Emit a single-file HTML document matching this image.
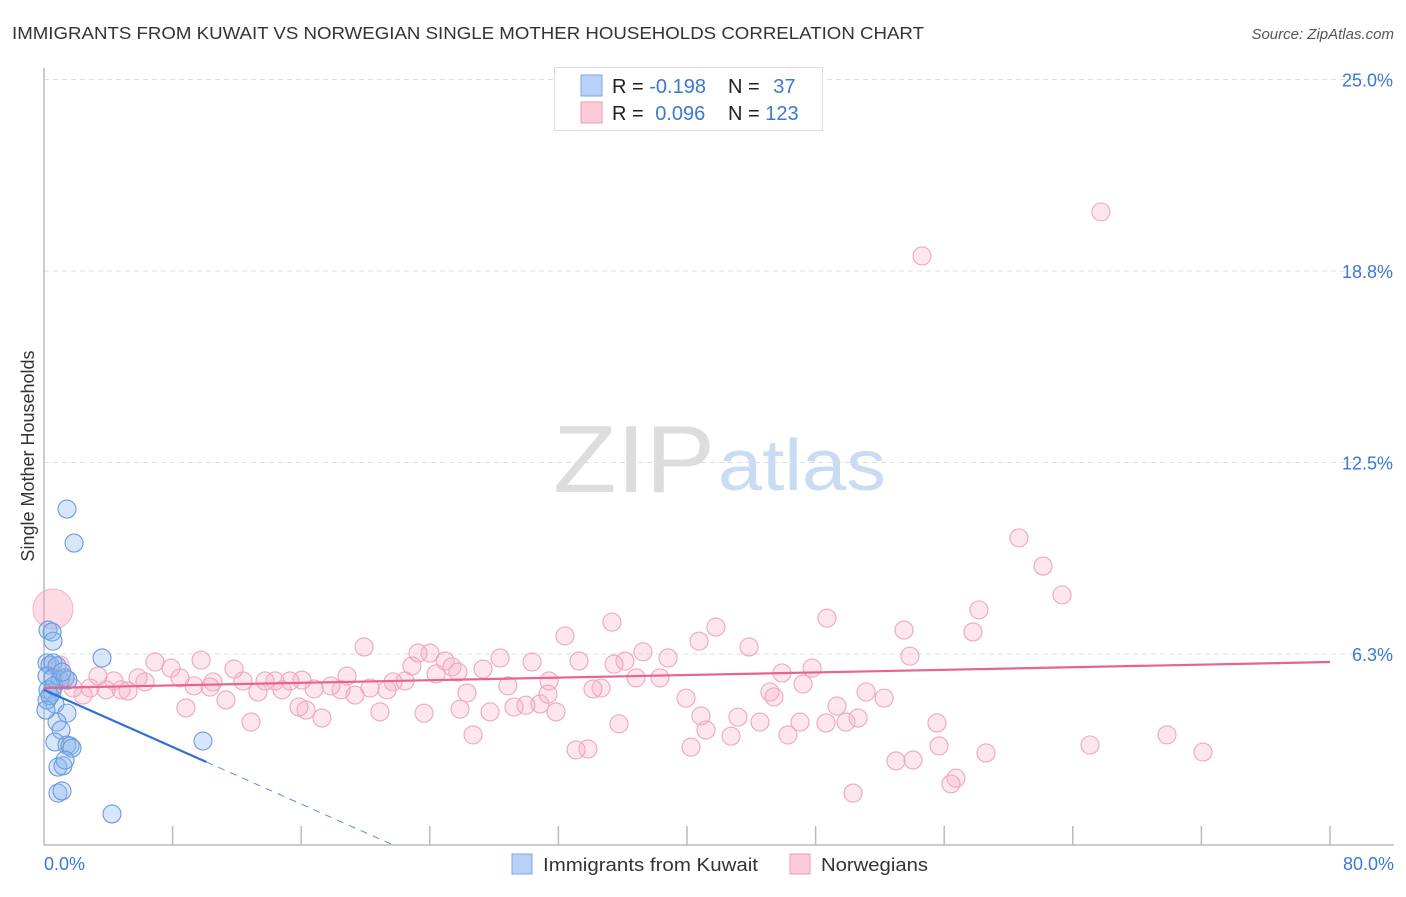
<!DOCTYPE html>
<html><head><meta charset="utf-8"><style>
body{margin:0;background:#fff;font-family:"Liberation Sans",sans-serif}
svg text{font-family:"Liberation Sans",sans-serif}
</style></head><body>
<svg id="chart" width="1406" height="892" viewBox="0 0 1406 892" xmlns="http://www.w3.org/2000/svg">
<text x="12" y="39" font-size="17.5" fill="#333" textLength="912" lengthAdjust="spacingAndGlyphs">IMMIGRANTS FROM KUWAIT VS NORWEGIAN SINGLE MOTHER HOUSEHOLDS CORRELATION CHART</text>
<text x="1394" y="39" font-size="15" fill="#555" font-style="italic" text-anchor="end">Source: ZipAtlas.com</text>
<g>
<text x="553" y="492" font-size="96" fill="#ddd" font-family="Liberation Serif" textLength="162" lengthAdjust="spacingAndGlyphs">ZIP</text>
<text x="718" y="490" font-size="72" fill="#c9dcf3" textLength="168" lengthAdjust="spacingAndGlyphs">atlas</text>
</g>
<g id="grid"></g>
<g id="axes"></g>
<text transform="translate(34,456) rotate(-90)" font-size="18" fill="#333" text-anchor="middle">Single Mother Households</text>
<g id="pts"></g>
<g id="lines"></g>
<g>
<rect x="554.5" y="67.5" width="268" height="63" fill="#fff" stroke="#ddd"/>
<rect x="581" y="75" width="21" height="21" fill="#b8d2f5" stroke="#7aa6e3"/>
<rect x="581" y="102" width="21" height="21" fill="#fbcbd8" stroke="#ec9ab3"/>
<text x="612" y="93" font-size="20" fill="#222">R = <tspan fill="#3a78d4">-0.198</tspan></text>
<text x="728" y="93" font-size="20" fill="#222">N = <tspan fill="#3a78d4" dx="8">37</tspan></text>
<text x="612" y="120" font-size="20" fill="#222">R = <tspan fill="#3a78d4" dx="6">0.096</tspan></text>
<text x="728" y="120" font-size="20" fill="#222">N = <tspan fill="#3a78d4">123</tspan></text>
</g>
<g>
<rect x="512" y="854" width="20" height="20" fill="#b8d2f5" stroke="#7aa6e3"/>
<text x="543" y="871" font-size="18" fill="#333" textLength="215" lengthAdjust="spacingAndGlyphs">Immigrants from Kuwait</text>
<rect x="790" y="854" width="20" height="20" fill="#fbcbd8" stroke="#ec9ab3"/>
<text x="821" y="871" font-size="18" fill="#333" textLength="107" lengthAdjust="spacingAndGlyphs">Norwegians</text>
</g>
</svg>
<script>
const yTicks=[6.3,12.5,18.8,25.0];
const yTickVals=[6.25,12.5,18.75,25];
const xTickLabels=["0.0%","80.0%"];
const kuwaitX=[1.43,1.87,3.61,9.89,4.23,0.25,0.5,0.56,0.19,0.37,0.56,0.81,0.19,0.56,1.0,1.31,0.25,0.5,0.68,1.43,0.81,1.06,0.68,1.43,1.62,1.74,0.87,1.18,1.31,0.87,1.12,0.19,0.37,0.12,0.62,1.49,1.12];
const kuwaitY=[10.98,9.87,6.12,3.41,1.03,7.03,6.97,6.67,5.96,5.89,5.96,5.86,5.53,5.47,5.4,5.47,5.08,5.01,4.62,4.32,4.03,3.77,3.38,3.28,3.25,3.18,2.56,2.6,2.79,1.71,1.78,4.75,4.89,4.42,5.21,5.4,5.66];
const norX=[65.75,54.62,60.65,62.15,63.33,58.16,57.79,53.5,48.71,41.8,35.33,32.41,19.91,53.87,43.86,40.75,37.26,38.82,36.14,33.28,30.36,28.37,27.31,24.01,23.27,22.89,24.95,25.38,25.75,18.85,47.78,45.91,47.22,45.16,45.41,38.32,36.83,34.65,34.15,31.42,28.86,26.31,24.39,22.46,21.71,21.34,20.28,19.35,18.48,17.85,16.8,16.05,15.3,14.37,14.81,13.75,13.31,12.38,11.82,11.32,10.51,10.33,9.33,9.77,8.46,7.9,6.9,6.28,5.85,5.23,4.79,4.35,3.86,3.36,2.86,2.43,1.8,1.31,1.0,51.14,52.26,49.33,50.64,48.65,49.89,47.03,46.28,44.54,43.17,42.74,41.18,40.25,35.77,33.84,31.85,30.86,29.98,29.24,27.75,26.69,20.9,17.29,16.3,15.86,12.88,8.83,55.55,55.68,58.6,54.06,53.0,56.73,56.42,50.33,65.07,69.86,72.1,33.1,39.94,40.87,35.46,31.35,23.64,25.88];
const norY=[20.68,19.24,10.04,9.12,8.18,7.69,6.97,7.03,7.42,7.13,7.29,6.84,6.48,6.18,6.48,6.67,6.32,6.12,6.02,6.02,5.99,6.12,5.76,6.28,6.28,5.86,6.02,5.83,5.66,5.53,5.79,5.63,5.27,5.01,4.85,5.47,5.47,5.14,5.11,5.37,5.21,4.98,5.6,5.37,5.34,5.08,5.14,4.91,5.08,5.21,5.11,5.4,5.37,5.37,5.08,5.37,5.01,5.37,5.76,4.75,5.34,5.17,5.21,6.05,5.47,5.79,5.99,5.34,5.47,5.04,5.08,5.37,5.08,5.53,5.14,4.91,5.14,5.47,5.89,5.01,4.81,4.55,4.16,4.0,4.03,4.03,3.61,4.03,4.19,3.57,3.77,3.21,3.97,3.15,4.36,4.62,4.58,4.52,4.36,3.61,4.36,4.16,4.42,4.52,4.03,4.49,4.0,3.25,3.02,2.79,2.76,2.2,2.01,1.71,3.28,3.61,3.05,3.12,4.81,4.23,5.92,4.94,4.32,4.45];
const bigX=[0.56], bigY=[7.72];
const kuwaitTrend=[5.08,-0.233];
const norTrend=[5.14,0.0106];

const X0=44,X1=1330,Y0=845.5,PX_PER_Y=30.64;
const sx=v=>X0+(v/80)*(X1-X0);
const sy=v=>Y0-v*PX_PER_Y;
const NS="http://www.w3.org/2000/svg";
function mk(tag,attrs,parent){const e=document.createElementNS(NS,tag);for(const k in attrs)e.setAttribute(k,attrs[k]);parent.appendChild(e);return e;}
const grid=document.getElementById('grid'),axes=document.getElementById('axes'),pts=document.getElementById('pts'),lines=document.getElementById('lines');
yTickVals.forEach((v,i)=>{
  const l=mk('line',{x1:44,x2:1394,y1:sy(v),y2:sy(v),stroke:'#ddd','stroke-dasharray':'5,4'},grid);
  
  
  const t=mk('text',{x:1393,y:sy(v)+7,'font-size':18,fill:'#3a78d4','text-anchor':'end'},grid);
  t.textContent=yTicks[i].toFixed(1)+'%';
  
  
});
let a=mk('line',{x1:44,x2:44,y1:68,y2:845,stroke:'#bbb','stroke-width':1.5},axes);


a=mk('line',{x1:44,x2:1394,y1:845,y2:845,stroke:'#bbb','stroke-width':1.5},axes);


for(let i=1;i<=10;i++){
  const t=mk('line',{x1:sx(i*8),x2:sx(i*8),y1:826,y2:845,stroke:'#bbb','stroke-width':1.5},axes);
  
  
}
let xl=mk('text',{x:44,y:870,'font-size':18,fill:'#3a78d4'},axes);xl.textContent=xTickLabels[0];


xl=mk('text',{x:1394,y:870,'font-size':18,fill:'#3a78d4','text-anchor':'end'},axes);xl.textContent=xTickLabels[1];


norX.forEach((x,i)=>{
  const c=mk('circle',{cx:sx(x),cy:sy(norY[i]),r:9,fill:'rgba(248,175,197,0.3)',stroke:'#efa5bb','stroke-width':1.1},pts);
  
  
});
bigX.forEach((x,i)=>{
  const c=mk('circle',{cx:sx(x),cy:sy(bigY[i]),r:20,fill:'rgba(248,175,197,0.45)',stroke:'#f2b3c6','stroke-width':1},pts);
  
  
});
kuwaitX.forEach((x,i)=>{
  const c=mk('circle',{cx:sx(x),cy:sy(kuwaitY[i]),r:9,fill:'rgba(140,182,236,0.35)',stroke:'#6b9ade','stroke-width':1.1},pts);
  
  
});
const kx1=10.1,kx2=-kuwaitTrend[0]/kuwaitTrend[1];
let ln=mk('line',{x1:sx(0),y1:sy(kuwaitTrend[0]),x2:sx(kx1),y2:sy(kuwaitTrend[0]+kuwaitTrend[1]*kx1),stroke:'#2f6fd6','stroke-width':2.2},lines);


ln=mk('line',{x1:sx(kx1),y1:sy(kuwaitTrend[0]+kuwaitTrend[1]*kx1),x2:sx(kx2),y2:sy(0),stroke:'#5b8fd8','stroke-width':1,'stroke-dasharray':'7,6'},lines);


ln=mk('line',{x1:sx(0),y1:sy(norTrend[0]),x2:sx(80),y2:sy(norTrend[0]+norTrend[1]*80),stroke:'#e8638e','stroke-width':2.2},lines);


</script>
</body></html>
